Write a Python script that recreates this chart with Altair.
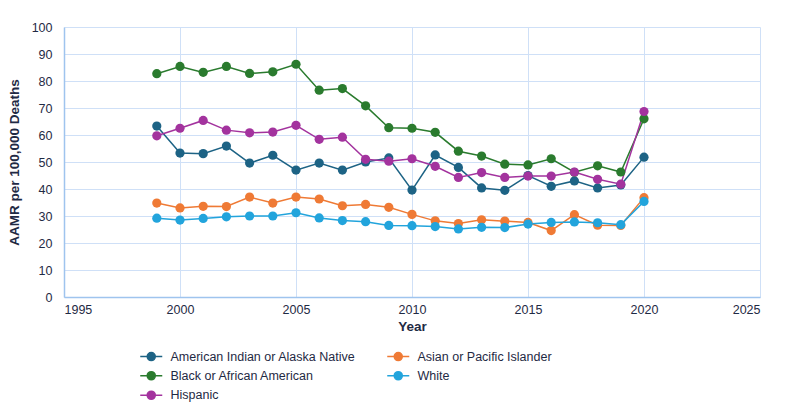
import altair as alt
import pandas as pd

years = list(range(1999, 2021))

aian = [63.3, 53.3, 53.1, 55.9, 49.6, 52.5, 47.0, 49.6, 47.0, 50.0, 51.5,
        39.6, 52.6, 48.0, 40.4, 39.5, 45.0, 41.0, 43.0, 40.4, 41.5, 51.8]
asian = [34.8, 33.0, 33.6, 33.5, 37.0, 34.8, 37.0, 36.3, 33.8, 34.3, 33.2,
         30.6, 28.2, 27.2, 28.6, 28.1, 27.6, 24.6, 30.5, 26.6, 26.5, 36.8]
black = [82.7, 85.4, 83.2, 85.4, 82.8, 83.4, 86.2, 76.6, 77.2, 70.8, 62.7,
         62.5, 61.0, 54.0, 52.2, 49.2, 48.9, 51.2, 46.2, 48.6, 46.3, 66.0]
white = [29.2, 28.5, 29.1, 29.7, 30.0, 30.0, 31.2, 29.3, 28.3, 27.9, 26.5,
         26.4, 26.1, 25.2, 25.8, 25.7, 27.0, 27.6, 27.8, 27.5, 26.8, 35.4]
hispanic = [59.7, 62.5, 65.4, 61.8, 60.8, 61.1, 63.6, 58.4, 59.2, 51.0, 50.3,
            51.2, 48.4, 44.3, 46.1, 44.3, 44.8, 44.8, 46.3, 43.6, 41.8, 68.7]

groups = [
    "American Indian or Alaska Native",
    "Asian or Pacific Islander",
    "Black or African American",
    "White",
    "Hispanic",
]
colors = ["#1d6385", "#ef7a35", "#2a7b2e", "#22a4dc", "#a3339e"]
series = [aian, asian, black, white, hispanic]

rows = []
for g, vals in zip(groups, series):
    for y, v in zip(years, vals):
        rows.append({"Year": y, "Group": g, "AAMR": v})
df = pd.DataFrame(rows)

text_color = "#1f2a44"
grid_color = "#cfe0f7"
axis_color = "#9fc4ee"
font = "Liberation Sans"

# legend glyph: short line with a dot in the middle
legend_glyph = (
    "M-2.2,0L2.2,0 "
    "M-0.8,0A0.8,0.8 0 1,1 0.8,0A0.8,0.8 0 1,1 -0.8,0Z"
)

base = alt.Chart(df).encode(
    x=alt.X(
        "Year:Q",
        scale=alt.Scale(domain=[1995, 2025], nice=False, zero=False),
        axis=alt.Axis(
            title="Year",
            values=[1995, 2000, 2005, 2010, 2015, 2020, 2025],
            format="d",
            tickSize=0,
            labelPadding=6,
            titlePadding=4,
        ),
    ),
    y=alt.Y(
        "AAMR:Q",
        scale=alt.Scale(domain=[0, 100], nice=False),
        axis=alt.Axis(
            title="AAMR per 100,000 Deaths",
            values=list(range(0, 101, 10)),
            tickSize=0,
            labelPadding=12,
            titlePadding=10,
        ),
    ),
    color=alt.Color(
        "Group:N",
        scale=alt.Scale(domain=groups, range=colors),
        sort=groups,
        legend=alt.Legend(
            title=None,
            orient="none",
            direction="horizontal",
            legendX=81,
            legendY=323,
            columns=2,
            columnPadding=28,
            rowPadding=4.5,
            symbolType=legend_glyph,
            symbolSize=100,
            symbolStrokeWidth=1.6,
            labelFontSize=12.5,
            labelColor=text_color,
            labelFont=font,
            labelOffset=13,
            padding=0,
            labelLimit=300,
        ),
    ),
)

lines = base.mark_line(strokeWidth=1.5)
points = base.mark_circle(size=85, opacity=1)

chart = (
    alt.layer(lines, points)
    .properties(
        width=696,
        height=270,
        padding={"left": 64, "top": 27, "right": 34, "bottom": 116},
        autosize=alt.AutoSizeParams(type="none"),
        background="white",
    )
    .configure_view(stroke=None)
    .configure_axis(
        gridColor=grid_color,
        gridWidth=1,
        domainColor=axis_color,
        domainWidth=1.5,
        labelColor=text_color,
        labelFont=font,
        labelFontSize=12.5,
        titleColor=text_color,
        titleFont=font,
        titleFontSize=13.5,
        titleFontWeight="bold",
    )
)

chart.save("out.html", embed_options={"renderer": "svg", "actions": False})
